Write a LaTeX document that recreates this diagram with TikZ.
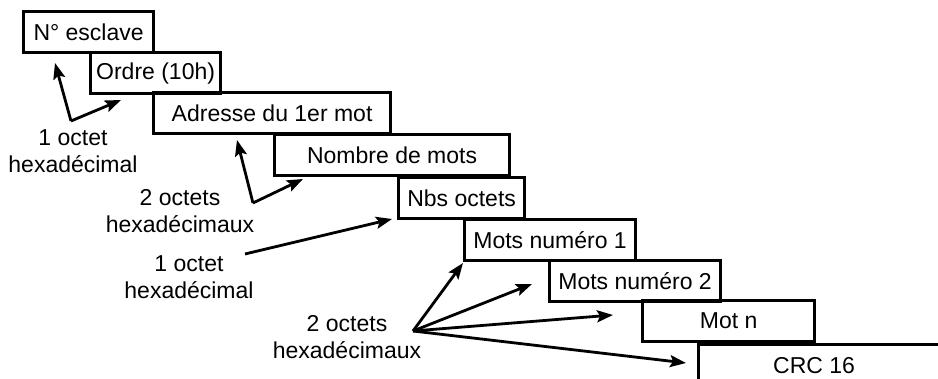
\documentclass[tikz,border=0pt]{standalone}
\usepackage{fontspec}
\setmainfont{Liberation Sans}
\usetikzlibrary{arrows.meta}
\tikzset{
  field/.style={draw=black, line width=1.6pt, minimum height=20.5pt, inner sep=0pt, anchor=north west, font=\fontsize{11.5}{13.5}\selectfont},
  arr/.style={draw=black, line width=1.4pt, -{Stealth[length=8pt,width=6pt,inset=1.5pt]}},
  lab/.style={align=center, inner sep=0pt, font=\fontsize{11.5}{13.5}\selectfont},
}

\begin{document}
\begin{tikzpicture}[x=0.5pt, y=-0.5pt]
  \useasboundingbox (0,0) rectangle (938,379);
  \clip (0,0) rectangle (938,379);

  % fields of the frame
  \node[field, minimum width=65pt]   (esclave) at (22,10)  {N° esclave};
  \node[field, minimum width=65pt]   (ordre)   at (89,51)  {Ordre (10h)};
  \node[field, minimum width=118.5pt] (adresse) at (152,91) {Adresse du 1er mot};
  \node[field, minimum width=117.5pt] (nombre)  at (273,133) {Nombre de mots};
  \node[field, minimum width=63pt]   (nbs)     at (397,176) {Nbs octets};
  \node[field, minimum width=85.5pt] (mot1)    at (463,218) {Mots numéro 1};
  \node[field, minimum width=85.5pt] (mot2)    at (548,259) {Mots numéro 2};
  \node[field, minimum width=86pt]   (motn)    at (641,299) {Mot n};
  \node[field, minimum width=131.5pt] (crc)    at (697,343) {CRC 16\hspace*{16pt}};

  % labels
  \node[lab] (octA) at (73,151)  {1 octet\\hexadécimal};
  \node[lab] (octB) at (180,211) {2 octets\\hexadécimaux};
  \node[lab] (octC) at (189,277) {1 octet\\hexadécimal};
  \node[lab] (octD) at (347,337) {2 octets\\hexadécimaux};

  \coordinate (vA) at (71,121);
  \coordinate (vB) at (253,203);
  \coordinate (vC) at (245,254);
  \coordinate (vD) at (413,331);

  \draw[arr] (vA) -- (55,63);
  \draw[arr] (vA) -- (121,100);
  \draw[arr] (vB) -- (237,140);
  \draw[arr] (vB) -- (303,179);
  \draw[arr] (vC) -- (392,219);
  \draw[arr] (vD) -- (463,263);
  \draw[arr] (vD) -- (532,284);
  \draw[arr] (vD) -- (613,315);
  \draw[arr] (vD) -- (686,363);
\end{tikzpicture}
\end{document}
